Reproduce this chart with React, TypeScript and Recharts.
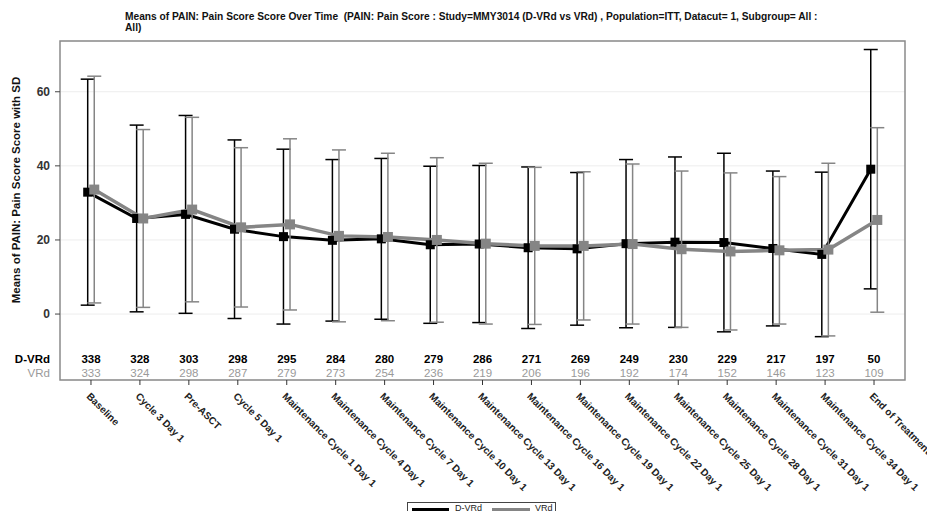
import { LineChart, Line, XAxis, YAxis, CartesianGrid, ErrorBar, ReferenceArea, Label } from "recharts";

const categories = [
  "Baseline", "Cycle 3 Day 1", "Pre-ASCT", "Cycle 5 Day 1",
  "Maintenance Cycle 1 Day 1", "Maintenance Cycle 4 Day 1", "Maintenance Cycle 7 Day 1",
  "Maintenance Cycle 10 Day 1", "Maintenance Cycle 13 Day 1", "Maintenance Cycle 16 Day 1",
  "Maintenance Cycle 19 Day 1", "Maintenance Cycle 22 Day 1", "Maintenance Cycle 25 Day 1",
  "Maintenance Cycle 28 Day 1", "Maintenance Cycle 31 Day 1", "Maintenance Cycle 34 Day 1",
  "End of Treatment",
];
const dvrdMean = [32.9, 25.8, 26.9, 22.9, 20.9, 19.9, 20.3, 18.7, 18.9, 17.9, 17.6, 19.0, 19.4, 19.3, 17.7, 16.1, 39.1];
const dvrdSd = [30.5, 25.2, 26.7, 24.1, 23.6, 21.8, 21.7, 21.2, 21.2, 21.8, 20.6, 22.7, 23.0, 24.1, 20.9, 22.2, 32.3];
const vrdMean = [33.6, 25.8, 28.2, 23.4, 24.2, 21.1, 20.8, 20.0, 19.0, 18.4, 18.4, 18.9, 17.5, 16.9, 17.2, 17.4, 25.4];
const vrdSd = [30.6, 24.0, 24.9, 21.5, 23.1, 23.2, 22.6, 22.2, 21.7, 21.2, 20.0, 21.6, 21.1, 21.2, 19.9, 23.3, 24.9];
const dvrdN = [338, 328, 303, 298, 295, 284, 280, 279, 286, 271, 269, 249, 230, 229, 217, 197, 50];
const vrdN = [333, 324, 298, 287, 279, 273, 254, 236, 219, 206, 196, 192, 174, 152, 146, 123, 109];
const yTicks = [0, 20, 40, 60];

// small horizontal dodge between the two arms
const SHIFT = 0.067;
const X_MIN = -0.633;
const X_MAX = categories.length - 1 + 0.633;
const Y_MIN = -17.8;
const Y_MAX = 73.7;

const dvrd = categories.map((c, i) => ({ x: i - SHIFT, name: c, mean: dvrdMean[i], sd: dvrdSd[i] }));
const vrd = categories.map((c, i) => ({ x: i + SHIFT, name: c, mean: vrdMean[i], sd: vrdSd[i] }));
const xTicks = categories.map((_, i) => i);

const FONT = "Arial, 'Liberation Sans', sans-serif";
const GRAY = "#858585";
const LIGHT = "#9a9a9a";

function XTick(props: any) {
  const { x, y, payload } = props;
  const i = payload.value;
  return (
    <g fontFamily={FONT}>
      {i === 0 && (
        <>
          <text x={x - 41} y={y - 25} textAnchor="end" fontWeight="bold" fontSize={11.5} fill="#000">D-VRd</text>
          <text x={x - 41} y={y - 11} textAnchor="end" fontSize={11.5} fill={LIGHT}>VRd</text>
        </>
      )}
      <text x={x} y={y - 25} textAnchor="middle" fontWeight="bold" fontSize={11.5} fill="#000">{dvrdN[i]}</text>
      <text x={x} y={y - 11} textAnchor="middle" fontSize={11.5} fill={LIGHT}>{vrdN[i]}</text>
      <text transform={`translate(${x - 5},${y + 9}) rotate(45)`} fontSize={10} fontWeight="bold" fill="#222">{categories[i]}</text>
    </g>
  );
}

const square = (size: number, fill: string) => (p: any) => (
  <rect key={`sq-${fill}-${p.index}`} x={p.cx - size / 2} y={p.cy - size / 2} width={size} height={size} fill={fill} />
);

export default function App() {
  return (
    <div style={{ position: "absolute", left: 0, top: 0, width: 927, height: 511, overflow: "hidden", background: "#fff", fontFamily: FONT }}>
      <div style={{ position: "absolute", left: 125, top: 11, fontSize: 10.2, lineHeight: "11px", fontWeight: "bold", whiteSpace: "pre", color: "#111" }}>
        {"Means of PAIN: Pain Score Score Over Time  (PAIN: Pain Score : Study=MMY3014 (D-VRd vs VRd) , Population=ITT, Datacut= 1, Subgroup= All :\nAll)"}
      </div>
      <LineChart width={927} height={511} margin={{ top: 41, right: 22, left: 0, bottom: 0 }}>
        <CartesianGrid horizontal vertical={false} stroke="#ededed" />
        <XAxis
          type="number" dataKey="x" domain={[X_MIN, X_MAX]} ticks={xTicks} allowDataOverflow
          interval={0} height={131} axisLine={false} tickLine={{ stroke: "#333" }}
          tickSize={5} tickMargin={3} tick={<XTick />}
        />
        <YAxis
          type="number" domain={[Y_MIN, Y_MAX]} ticks={yTicks} allowDataOverflow width={60}
          axisLine={false} tickLine={{ stroke: "#444" }} tickSize={5} tickMargin={5}
          tick={{ fontSize: 12, fontWeight: "bold", fill: "#333", fontFamily: FONT }}
        >
          <Label
            content={() => (
              <text transform="translate(20,190) rotate(-90)" textAnchor="middle" fontSize={11.5} fontWeight="bold" fill="#111" fontFamily={FONT}>
                Means of PAIN: Pain Score Score with SD
              </text>
            )}
          />
        </YAxis>
        <ReferenceArea x1={X_MIN} x2={X_MAX} y1={Y_MIN} y2={Y_MAX} fill="none" stroke="#8a8a8a" strokeWidth={1.5} />
        <Line data={dvrd} dataKey="mean" name="D-VRd" stroke="#000" strokeWidth={3} dot={square(9, "#000")} isAnimationActive={false}>
          <ErrorBar dataKey="sd" direction="y" width={7} stroke="#000" strokeWidth={1.5} isAnimationActive={false} />
        </Line>
        <Line data={vrd} dataKey="mean" name="VRd" stroke={GRAY} strokeWidth={3.5} dot={square(10, GRAY)} isAnimationActive={false}>
          <ErrorBar dataKey="sd" direction="y" width={7} stroke={GRAY} strokeWidth={1.5} isAnimationActive={false} />
        </Line>
      </LineChart>
      <div style={{ position: "absolute", left: 407, top: 502, height: 20, width: 149, border: "1px solid #444", boxSizing: "border-box", display: "flex", alignItems: "flex-start", padding: "0 0 0 4px", fontSize: 9, lineHeight: "10px", color: "#222", whiteSpace: "nowrap" }}>
        <span style={{ display: "inline-block", width: 37, height: 4, background: "#000", marginTop: 5, marginRight: 6 }} />
        <span style={{ marginRight: 10 }}>D-VRd</span>
        <span style={{ display: "inline-block", width: 38, height: 4, background: GRAY, marginTop: 5, marginRight: 5 }} />
        <span>VRd</span>
      </div>
    </div>
  );
}
